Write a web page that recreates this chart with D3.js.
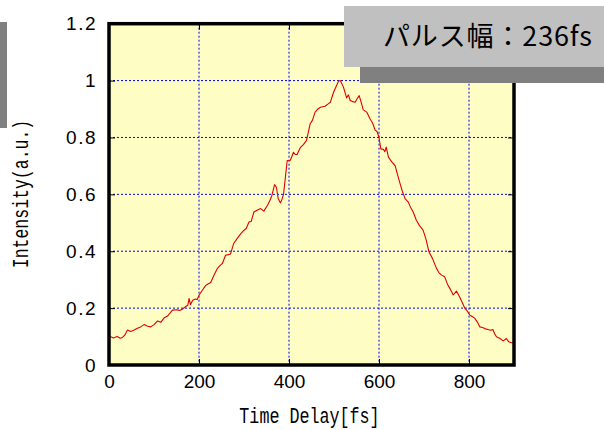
<!DOCTYPE html>
<html>
<head>
<meta charset="utf-8">
<script src="https://cdn.jsdelivr.net/npm/d3@7"></script>
<style>
  body { margin: 0; background: #fff; }
  svg { display: block; }
</style>
</head>
<body>
<div id="chart"></div>
<script>
// Delay (fs) and normalised intensity
const delay = [0, 4, 10, 18, 25, 30, 35, 41, 48, 55, 62, 70, 78, 86, 93, 100, 108, 115, 122, 130,
  136, 141, 150, 157, 163, 170, 175, 178, 181, 186, 192, 196, 200, 207, 215, 220, 226, 233, 241, 247,
  252, 259, 265, 270, 277, 285, 293, 300, 305, 311, 316, 322, 330, 337, 344, 352, 358, 362, 368, 372,
  376, 381, 385, 388, 392, 396, 403, 410, 414, 418, 425, 432, 439, 447, 452, 458, 464, 470, 480, 487,
  492, 499, 505, 510, 514, 521, 528, 532, 536, 540, 547, 551, 556, 561, 565, 573, 580, 586, 591, 596,
  600, 604, 610, 613, 616, 621, 628, 636, 641, 647, 652, 658, 665, 670, 676, 683, 690, 698, 705, 711,
  719, 728, 733, 739, 746, 753, 759, 765, 772, 779, 785, 791, 796, 802, 808, 813, 819, 824, 830, 835,
  842, 848, 853, 857, 861, 868, 876, 883, 888, 894, 900];
const intensity = [0.100, 0.099, 0.095, 0.100, 0.094, 0.097, 0.105, 0.123, 0.118, 0.122, 0.128, 0.134, 0.142, 0.136, 0.134, 0.142, 0.155, 0.150, 0.165, 0.172,
  0.183, 0.193, 0.194, 0.192, 0.196, 0.205, 0.210, 0.234, 0.212, 0.228, 0.232, 0.230, 0.245, 0.262, 0.280, 0.285, 0.290, 0.315, 0.340, 0.350,
  0.357, 0.386, 0.388, 0.390, 0.427, 0.445, 0.462, 0.474, 0.480, 0.503, 0.505, 0.538, 0.545, 0.550, 0.541, 0.561, 0.580, 0.596, 0.634, 0.625,
  0.585, 0.570, 0.585, 0.602, 0.660, 0.719, 0.720, 0.748, 0.740, 0.740, 0.764, 0.775, 0.790, 0.848, 0.860, 0.889, 0.900, 0.906, 0.910, 0.918,
  0.924, 0.959, 0.980, 0.998, 1.000, 0.977, 0.939, 0.950, 0.930, 0.927, 0.924, 0.935, 0.947, 0.920, 0.897, 0.889, 0.866, 0.850, 0.827, 0.820,
  0.800, 0.760, 0.758, 0.750, 0.766, 0.731, 0.715, 0.700, 0.670, 0.637, 0.610, 0.585, 0.573, 0.555, 0.538, 0.509, 0.490, 0.474, 0.439, 0.398,
  0.374, 0.339, 0.325, 0.316, 0.310, 0.281, 0.265, 0.246, 0.260, 0.240, 0.220, 0.199, 0.190, 0.175, 0.170, 0.164, 0.150, 0.134, 0.132, 0.128,
  0.125, 0.122, 0.125, 0.110, 0.099, 0.094, 0.085, 0.093, 0.082, 0.078, 0.078];
const xTicks = [0, 200, 400, 600, 800];
const yTicks = [0, 0.2, 0.4, 0.6, 0.8, 1, 1.2];
const xLabel = "Time Delay[fs]";
const yLabel = "Intensity(a.u.)";
const title = "パルス幅：236fs";

const width = 604, height = 430;
const margin = { top: 23.7, right: 90, bottom: 65, left: 109 };
const innerW = width - margin.left - margin.right;
const innerH = height - margin.top - margin.bottom;

const svg = d3.select("#chart").append("svg")
  .attr("width", width)
  .attr("height", height);

const x = d3.scaleLinear().domain([0, 900]).range([0, innerW]);
const y = d3.scaleLinear().domain([0, 1.2]).range([innerH, 0]);

const g = svg.append("g")
  .attr("transform", `translate(${margin.left},${margin.top})`);

// plot background
g.append("rect")
  .attr("width", innerW)
  .attr("height", innerH)
  .attr("fill", "#fdfdc4");

// dotted grid
g.append("g").selectAll("line")
  .data(xTicks.filter(d => d > 0))
  .join("line")
  .attr("x1", d => x(d)).attr("x2", d => x(d))
  .attr("y1", 0).attr("y2", innerH)
  .attr("stroke", "#0000ff")
  .attr("stroke-dasharray", "2,2");
g.append("g").selectAll("line")
  .data(yTicks.filter(d => d > 0 && d < 1.2))
  .join("line")
  .attr("y1", d => y(d)).attr("y2", d => y(d))
  .attr("x1", 0).attr("x2", innerW)
  .attr("stroke", "#0000ff")
  .attr("stroke-dasharray", "2,2");

// trace
const line = d3.line()
  .x((d, i) => x(delay[i]))
  .y(d => y(d));
g.append("path")
  .datum(intensity)
  .attr("fill", "none")
  .attr("stroke", "#e00000")
  .attr("stroke-width", 1.1)
  .attr("stroke-linejoin", "round")
  .attr("d", line);

// inward ticks on all sides
const bottomAxis = g.append("g")
  .attr("transform", `translate(0,${innerH})`)
  .call(d3.axisBottom(x).tickValues(xTicks).tickSizeInner(-6).tickSizeOuter(0).tickPadding(12));
const topAxis = g.append("g")
  .call(d3.axisTop(x).tickValues(xTicks).tickSizeInner(-6).tickSizeOuter(0).tickFormat(""));
const leftAxis = g.append("g")
  .call(d3.axisLeft(y).tickValues(yTicks).tickSizeInner(-6).tickSizeOuter(0).tickPadding(12)
    .tickFormat(d3.format("~g")));
const rightAxis = g.append("g")
  .attr("transform", `translate(${innerW},0)`)
  .call(d3.axisRight(y).tickValues(yTicks).tickSizeInner(-6).tickSizeOuter(0).tickFormat(""));

[bottomAxis, topAxis, leftAxis, rightAxis].forEach(a => {
  a.select(".domain").remove();
  a.selectAll("text")
    .attr("font-family", "Liberation Sans, Arial, sans-serif")
    .attr("font-size", 19)
    .attr("fill", "#000");
});
leftAxis.selectAll("text").attr("letter-spacing", 1.5);
bottomAxis.selectAll("text").attr("dy", "0.71em").attr("y", 10);

// thick frame
g.append("rect")
  .attr("width", innerW)
  .attr("height", innerH)
  .attr("fill", "none")
  .attr("stroke", "#000")
  .attr("stroke-width", 3.5);

// axis titles: narrow monospace look, 10px per character
svg.append("text")
  .attr("transform", `translate(${margin.left + x(450) - 2},423) scale(0.76,1)`)
  .attr("text-anchor", "middle")
  .attr("font-family", "Liberation Mono, DejaVu Sans Mono, monospace")
  .attr("font-size", 22)
  .text(xLabel);

svg.append("text")
  .attr("transform", "translate(28,194) rotate(-90) scale(0.75,1)")
  .attr("text-anchor", "middle")
  .attr("font-family", "Liberation Mono, DejaVu Sans Mono, monospace")
  .attr("font-size", 22)
  .text(yLabel);

// left grey strip
svg.append("rect")
  .attr("x", 0).attr("y", 22)
  .attr("width", 7).attr("height", 106)
  .attr("fill", "#808080");

// title box with shadow
svg.append("rect")
  .attr("x", 360).attr("y", 20)
  .attr("width", 244).attr("height", 63)
  .attr("fill", "#808080");
svg.append("rect")
  .attr("x", 344).attr("y", 6)
  .attr("width", 260).attr("height", 61)
  .attr("fill", "#c0c0c0");
svg.append("text")
  .attr("x", 383)
  .attr("y", 46)
  .attr("font-family", "Noto Sans CJK JP, sans-serif")
  .attr("font-size", 27)
  .attr("textLength", 209)
  .attr("lengthAdjust", "spacing")
  .attr("fill", "#000")
  .text(title);
</script>
</body>
</html>
